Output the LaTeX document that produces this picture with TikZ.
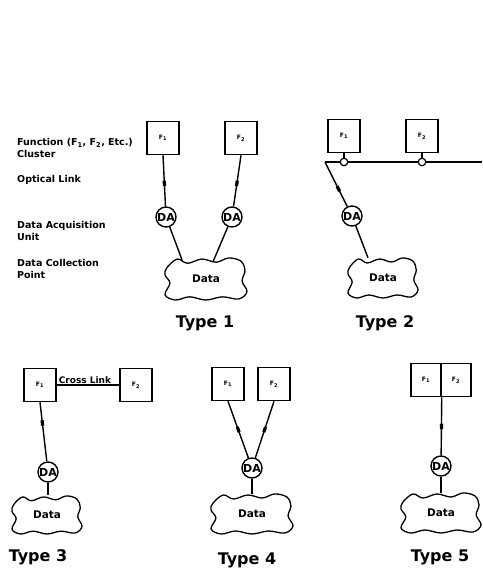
\documentclass[tikz,border=0pt]{standalone}
\usepackage{fontspec}
\setmainfont{DejaVu Sans}
\usetikzlibrary{shapes.geometric,calc}
\tikzset{
  fbox/.style={draw, line width=1.5pt, minimum width=32, minimum height=33, inner sep=0pt, font=\fontsize{6}{6}\selectfont\bfseries},
  danode/.style={circle, draw, line width=1.4pt, fill=white, minimum size=20, inner sep=0pt, font=\fontsize{11}{11}\selectfont\bfseries},
  link/.style={line width=1.4pt},
  omark/.style={fill, rectangle, minimum width=5.5, minimum height=3.2, inner sep=0pt, sloped},
  tap/.style={circle, draw, fill=white, minimum size=7.5, inner sep=0pt, line width=1.2pt},
  typelabel/.style={font=\fontsize{16}{16}\selectfont\bfseries},
  lbl/.style={anchor=west, align=left, inner sep=0pt, font=\fontsize{9.5}{12}\selectfont\bfseries},
  cloudnode/.style={ellipse, minimum width=#1, minimum height=40, inner sep=0pt, font=\fontsize{10.5}{10.5}\selectfont\bfseries},
  cloudnode/.default=80,
  blob/.pic={\draw[line width=1.3pt] plot[smooth cycle, tension=0.6] coordinates {
    (-0.95,-0.55) (-0.7,-0.95) (-0.45,-0.75) (-0.1,-0.95) (0.25,-0.8) (0.55,-1.0) (0.85,-0.85)
    (0.95,-0.4) (0.88,0.1) (1.0,0.6) (0.8,0.95) (0.4,0.85) (0.0,1.0) (-0.4,0.85)
    (-0.75,1.0) (-1.0,0.75) (-0.88,0.2) (-1.0,-0.2)};}
}
\begin{document}
\begin{tikzpicture}[x=1pt,y=-1pt]
\useasboundingbox (0,0) rectangle (482,572);
\fill[white] (0,0) rectangle (482,572);

% left legend
\node[lbl] (lf) at (17,148) {Function (F\textsubscript{1}, F\textsubscript{2}, Etc.)\\Cluster};
\node[lbl] (lo) at (17,180) {Optical Link};
\node[lbl] (ld) at (17,231) {Data Acquisition\\Unit};
\node[lbl] (lc) at (17,269) {Data Collection\\Point};

% ---------- Type 1
\node[fbox] (t1f1) at (163,138) {F\textsubscript{1}};
\node[fbox] (t1f2) at (241,138) {F\textsubscript{2}};
\node[danode] (t1da1) at (166,217) {DA};
\node[danode] (t1da2) at (232,217) {DA};
\node[cloudnode=82] (t1cl) at (206,279) {Data};
\pic[xscale=41,yscale=21] at (t1cl.center) {blob};
\draw[link] (t1f1.south) -- node[omark,pos=0.55] (t1m1) {} (t1da1);
\draw[link] (t1f2.south) -- node[omark,pos=0.55] (t1m2) {} (t1da2);
\draw[link] (t1da1) -- ([xshift=-24pt,yshift=-1pt]t1cl.north);
\draw[link] (t1da2) -- ([xshift=7pt,yshift=-3pt]t1cl.north);
\node[typelabel] (t1l) at (205,323) {Type 1};

% ---------- Type 2
\node[fbox] (t2f1) at (344,136) {F\textsubscript{1}};
\node[fbox] (t2f2) at (422,136) {F\textsubscript{2}};
\node[tap] (t2c1) at (344,162) {};
\node[tap] (t2c2) at (422,162) {};
\coordinate (t2l) at (325,162);
\coordinate (t2r) at (482,162);
\draw[link] (t2f1) -- (t2c1);
\draw[link] (t2f2) -- (t2c2);
\draw[link] (t2l) -- (t2c1);
\draw[link] (t2c1) -- (t2c2);
\draw[link] (t2c2) -- (t2r);
\node[danode] (t2da) at (352,216) {DA};
\node[cloudnode=70] (t2cl) at (383,278) {Data};
\pic[xscale=35,yscale=20] at (t2cl.center) {blob};
\draw[link] (t2l) -- node[omark,pos=0.6] (t2m) {} (t2da);
\draw[link] (t2da) -- ([xshift=-15pt]t2cl.north);
\node[typelabel] (t2lb) at (385,323) {Type 2};

% ---------- Type 3
\node[fbox] (t3f1) at (40,385) {F\textsubscript{1}};
\node[fbox] (t3f2) at (136,385) {F\textsubscript{2}};
\draw[link] (t3f1) -- node[above=0.5pt, inner sep=0pt, font=\fontsize{9}{9}\selectfont\bfseries, xshift=-3pt] (t3cx) {Cross Link} (t3f2);
\node[danode] (t3da) at (48,472) {DA};
\node[cloudnode=70] (t3cl) at (47,515) {Data};
\pic[xscale=35,yscale=19] at (t3cl.center) {blob};
\draw[link] (t3f1.south) -- node[omark,pos=0.35] (t3m) {} (t3da);
\draw[link] (t3da.south) -- (t3da.south |- t3cl.north);
\node[typelabel] (t3lb) at (38,557) {Type 3};

% ---------- Type 4
\node[fbox] (t4f1) at (228,384) {F\textsubscript{1}};
\node[fbox] (t4f2) at (274,384) {F\textsubscript{2}};
\node[danode] (t4da) at (252,468) {DA};
\node[cloudnode=82] (t4cl) at (252,514) {Data};
\pic[xscale=41,yscale=20] at (t4cl.center) {blob};
\draw[link] (t4f1.south) -- node[omark,pos=0.5] (t4m1) {} (t4da);
\draw[link] (t4f2.south) -- node[omark,pos=0.5] (t4m2) {} (t4da);
\draw[link] (t4da.south) -- (t4da.south |- t4cl.north);
\node[typelabel] (t4lb) at (247,560) {Type 4};

% ---------- Type 5
\node[fbox, minimum width=30] (t5f1) at (426,380) {F\textsubscript{1}};
\node[fbox, minimum width=30] (t5f2) at (456,380) {F\textsubscript{2}};
\coordinate (t5j) at (t5f1.south east);
\node[danode] (t5da) at (441,466) {DA};
\node[cloudnode=80] (t5cl) at (441,513) {Data};
\pic[xscale=40,yscale=20] at (t5cl.center) {blob};
\draw[link] (t5j) -- node[omark,pos=0.5] (t5m) {} (t5da);
\draw[link] (t5da.south) -- (t5da.south |- t5cl.north);
\node[typelabel] (t5lb) at (440,557) {Type 5};
\end{tikzpicture}
\end{document}
